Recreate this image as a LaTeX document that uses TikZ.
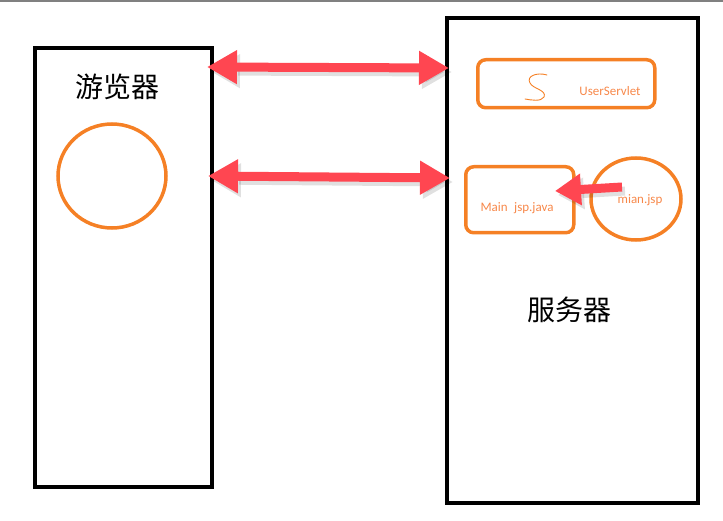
\documentclass[tikz,border=0pt]{standalone}
\usepackage{fontspec}
\setsansfont{Carlito}
\newfontfamily\cjk{Noto Sans CJK SC}
\usetikzlibrary{arrows.meta}
\definecolor{orng}{HTML}{F58025}
\definecolor{otext}{HTML}{F7884A}
\definecolor{rarrow}{HTML}{FF4651}
\tikzset{
  blackbox/.style={draw=black, line width=4pt},
  obox/.style={draw=orng, line width=3.5pt, rounded corners=8pt},
  olabel/.style={text=otext, font=\sffamily\fontsize{13}{15}\selectfont, inner sep=0pt},
  cjklabel/.style={font=\cjk\fontsize{28}{30}\selectfont, inner sep=0pt},
  bigarrow/.style={draw=rarrow, line width=9pt, {Triangle[length=30pt,width=32pt]}-{Triangle[length=30pt,width=32pt]}},
  smallarrow/.style={draw=rarrow, line width=9pt, -{Triangle[length=26pt,width=30pt]}},
  shadowed/.style={draw=black, opacity=0.12},
}
\begin{document}
\begin{tikzpicture}[x=1pt,y=-1pt]
\useasboundingbox (0,0) rectangle (723,521);
% top grey line
\draw[gray, line width=1.5pt] (0,1) -- (723,1);
% browser box
\node[blackbox, minimum width=177pt, minimum height=439pt, anchor=north west, inner sep=0pt] (browser) at (33,46) {};
\node[cjklabel] (btext) at (117,87) {游览器};
\draw[draw=orng, line width=3.5pt] (112,176) ellipse (54pt and 52pt);
% server box
\node[blackbox, minimum width=251pt, minimum height=485pt, anchor=north west, inner sep=0pt] (server) at (445,16) {};
\node[cjklabel] (stext) at (569,310) {服务器};
% UserServlet
\node[obox, minimum width=177pt, minimum height=48pt, anchor=north west, inner sep=0pt] (us) at (476,58) {};
\node[olabel] (ustext) at (610,91) {UserServlet};
\draw[orng, line width=0.9pt, line cap=round] (547,75) .. controls (537,72) and (526,76) .. (530,83)
  .. controls (533,89) and (547,90) .. (544,97) .. controls (541,102) and (531,100) .. (525,99);
% Main jsp.java
\node[obox, minimum width=108pt, minimum height=66pt, anchor=north west, inner sep=0pt] (mj) at (464,165) {};
\node[olabel] (mjtext) at (517,208) {Main\hspace{0.5em}jsp.java};
% mian.jsp
\draw[draw=orng, line width=3.5pt] (636,199) ellipse (45pt and 41pt);
\node[olabel] (mtext) at (640,200) {mian.jsp};
\coordinate (mtail) at (622,187);
\coordinate (mtip) at (555,191);
\draw[smallarrow, shadowed] ([shift={(3,4)}]mtail) -- ([shift={(3,4)}]mtip);
\draw[smallarrow] (mtail) -- (mtip);
% double arrows
\coordinate (a1l) at (207,67);
\coordinate (a1r) at (449,68);
\coordinate (a2l) at (208,176);
\coordinate (a2r) at (450,178);
\draw[bigarrow, shadowed] ([shift={(3,4)}]a1l) -- ([shift={(3,4)}]a1r);
\draw[bigarrow, shadowed] ([shift={(3,4)}]a2l) -- ([shift={(3,4)}]a2r);
\draw[bigarrow] (a1l) -- (a1r);
\draw[bigarrow] (a2l) -- (a2r);
\end{tikzpicture}
\end{document}
